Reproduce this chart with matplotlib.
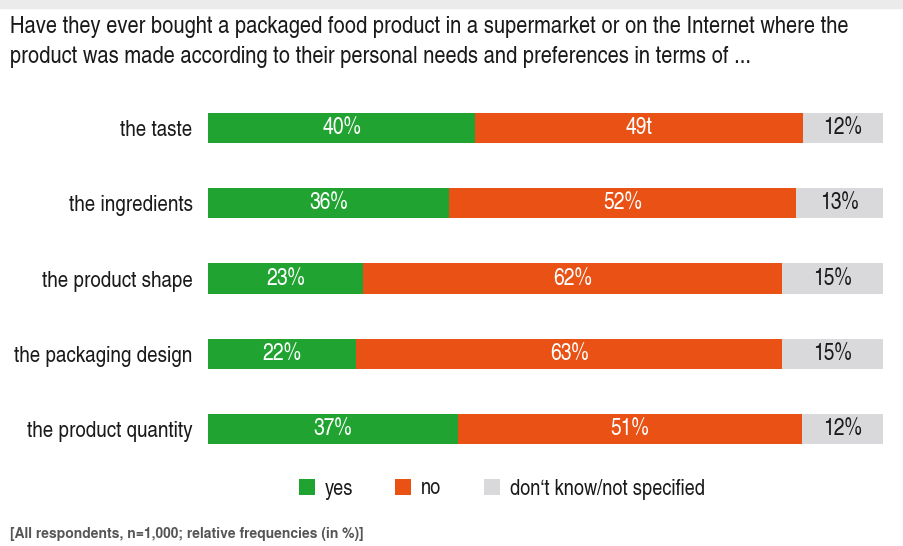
import numpy as np
import matplotlib
matplotlib.use('Agg')
import matplotlib.pyplot as plt
from matplotlib.patches import Rectangle

plt.rcParams['font.family'] = ['TeX Gyre Heros Cn', 'Liberation Sans', 'DejaVu Sans']

# data
categories = ['the taste', 'the ingredients', 'the product shape',
              'the packaging design', 'the product quantity']
yes = [40, 36, 23, 22, 37]
no = [49, 52, 62, 63, 51]
dk = [12, 13, 15, 15, 12]
yes_labels = ['40%', '36%', '23%', '22%', '37%']
no_labels = ['49t', '52%', '62%', '63%', '51%']
dk_labels = ['12%', '13%', '15%', '15%', '12%']
series_names = ['yes', 'no', 'don\u2018t know/not specified']

c_yes = '#21a332'
c_no = '#e95214'
c_dk = '#d9d9db'

fig = plt.figure(figsize=(9.04, 5.46), dpi=100)
# gray strip on top
fig.patches.append(Rectangle((0, 1 - 8 / 546), 1, 8 / 546, transform=fig.transFigure,
                             color='#ebebeb', zorder=0))

ax = fig.add_axes([208 / 904, 0.1451, 675 / 904, 0.6896])

vals = np.array([yes, no, dk], dtype=float)
shares = vals / vals.sum(axis=0) * 100  # each row fills the bar
y = np.arange(len(categories))
left = np.zeros(len(categories))
colors = [c_yes, c_no, c_dk]
labels = [yes_labels, no_labels, dk_labels]
txtcol = ['white', 'white', '#1a1a1a']
for i in range(3):
    ax.barh(y, shares[i], left=left, height=0.4, color=colors[i],
            label=series_names[i], edgecolor='none')
    for j in range(len(categories)):
        ax.text(left[j] + shares[i][j] / 2, y[j], labels[i][j], ha='center',
                va='center', color=txtcol[i], fontsize=17)
    left = left + shares[i]

ax.set_xlim(0, 100)
ax.set_ylim(4.5, -0.5)
ax.set_yticks(y)
ax.set_yticklabels(categories, fontsize=16.5, color='#1a1a1a')
ax.set_xticks([])
ax.tick_params(axis='y', length=0, pad=11)
for s in ax.spines.values():
    s.set_visible(False)

leg = fig.legend(loc='center', bbox_to_anchor=(0.5548, 1 - 489 / 546), ncol=3,
                 frameon=False, fontsize=16, handlelength=0.72, handleheight=0.72,
                 handletextpad=0.45, columnspacing=1.9)
for t in leg.get_texts():
    t.set_color('#1a1a1a')

fig.text(10 / 904, 1 - 33 / 546,
         'Have they ever bought a packaged food product in a supermarket or on the Internet where the',
         fontsize=17.7, color='#1a1a1a', va='baseline')
fig.text(10 / 904, 1 - 63 / 546,
         'product was made according to their personal needs and preferences in terms of ...',
         fontsize=17.7, color='#1a1a1a', va='baseline')
fig.text(10 / 904, 1 - 538 / 546,
         '[All respondents, n=1,000; relative frequencies (in %)]',
         fontsize=10, color='#555555', fontweight='bold', va='baseline',
         family=['TeX Gyre Heros', 'Liberation Sans'])

fig.savefig('out.png', dpi=100)
